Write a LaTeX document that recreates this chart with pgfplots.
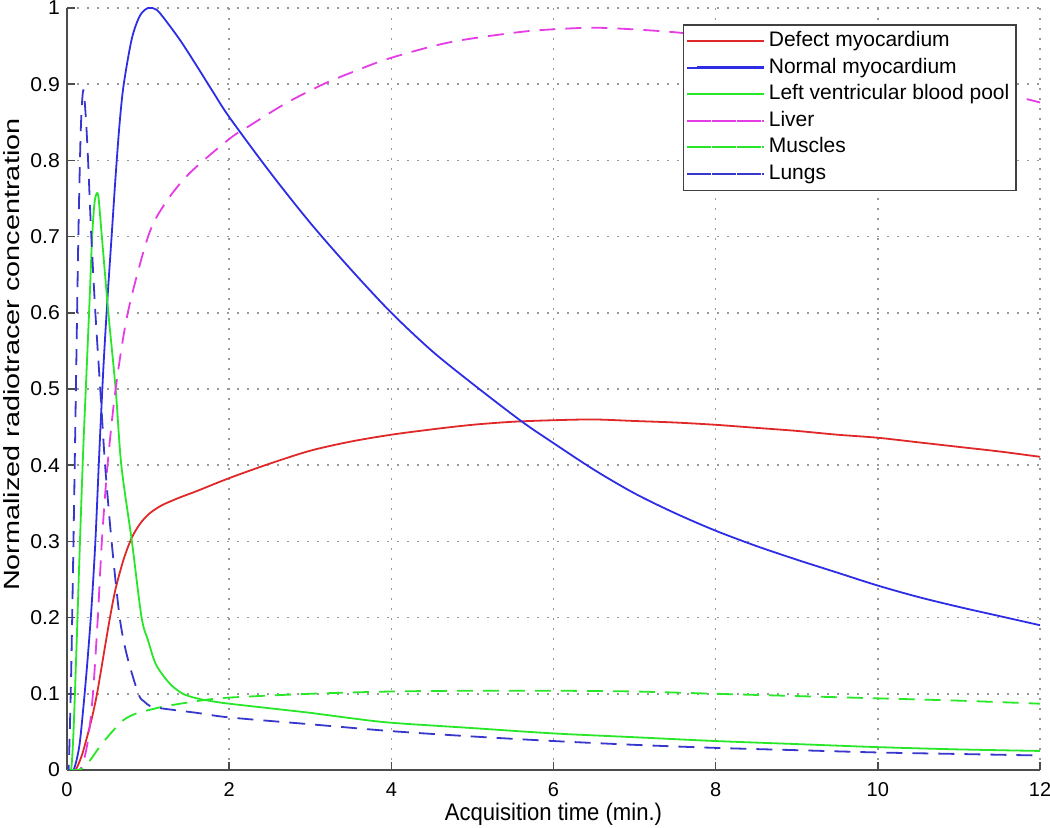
\documentclass[border=0pt]{standalone}
\usepackage{fontspec}
\setmainfont{Liberation Sans}
\newfontfamily\xfont[FakeStretch=0.92]{Liberation Sans}
\newfontfamily\yfont[FakeStretch=1.31]{Liberation Sans}
\newfontfamily\tfont[FakeStretch=1.06]{Liberation Sans}
\usepackage{pgfplots}
\pgfplotsset{compat=1.18}

\definecolor{cred}{RGB}{225,40,40}
\definecolor{cblue}{RGB}{45,45,230}
\definecolor{cgreen}{RGB}{40,230,40}
\definecolor{cmag}{RGB}{230,60,230}
\definecolor{clung}{RGB}{55,55,205}

\begin{document}
\begin{tikzpicture}
\begin{axis}[
    scale only axis,
    width=486.5pt, height=381pt,
    xmin=0, xmax=12, ymin=0, ymax=1,
    xtick={0,2,...,12},
    ytick={0,0.1,...,1},
    yticklabels={0,0.1,0.2,0.3,0.4,0.5,0.6,0.7,0.8,0.9,1},
    axis lines=left,
    axis line style={-, line width=0.9pt, black!70},
    tick style={black!70, line width=0.8pt},
    major tick length=4pt,
    tick align=inside,
    grid=major,
    grid style={black!40, line width=0.8pt, dash pattern=on 0.8pt off 4.2pt},
    /pgf/number format/assume math mode=true,
    x tick label style={font=\fontsize{10}{12}\selectfont, inner sep=1pt, yshift=-5.3pt},
    y tick label style={font=\tfont\fontsize{10}{12}\selectfont},
    xlabel={Acquisition time (min.)},
    ylabel={Normalized radiotracer concentration},
    xlabel style={font=\xfont\fontsize{12}{14}\selectfont, inner sep=0.5pt,
        at={(axis description cs:0.5,-0.058)}, anchor=center},
    ylabel style={font=\yfont\fontsize{11}{13}\selectfont,
        at={(axis description cs:-0.0565,0.545)}, anchor=center},
    legend cell align=left,
    legend style={at={(rel axis cs:0.976,0.979)}, anchor=north east,
        font=\fontsize{10.5}{12}\selectfont, draw=black!75, line width=0.8pt,
        inner sep=1.5pt, row sep=0pt,
        nodes={text height=7.6pt, text depth=2.2pt, inner sep=1.75pt}},
    legend image code/.code={
        \path (0pt,0pt) -- (38.5pt,0pt);
        \draw[#1] (5pt,0.15pt) -- (38.5pt,0.15pt);},
]
\coordinate (bl) at (rel axis cs:0,0);
\coordinate (tr) at (rel axis cs:1,1);

% Defect myocardium
\addplot[cred, line width=0.9pt, smooth, tension=0.5, forget plot] coordinates {
(0,0)(0.1,0)(0.15,0.01)(0.2,0.025)(0.3,0.065)(0.37,0.1)(0.45,0.15)(0.53,0.2)
(0.6,0.238)(0.7,0.277)(0.8,0.305)(0.9,0.323)(1.0,0.335)(1.1,0.343)(1.2,0.349)
(1.4,0.358)(1.6,0.366)(2,0.383)(2.5,0.402)(3,0.419)(3.5,0.431)(4,0.44)
(4.5,0.447)(5,0.453)(5.5,0.457)(6,0.459)(6.5,0.46)(7,0.458)(7.5,0.456)
(8,0.453)(8.5,0.449)(9,0.445)(9.5,0.44)(10,0.436)(10.5,0.43)(11,0.424)
(11.5,0.418)(12,0.411)
};

% Normal myocardium
\addplot[cblue, line width=0.9pt, smooth, tension=0.5, forget plot] coordinates {
(0,0)(0.08,0)(0.15,0.03)(0.2,0.08)(0.25,0.14)(0.3,0.21)(0.35,0.3)(0.4,0.42)
(0.45,0.53)(0.5,0.62)(0.55,0.7)(0.6,0.78)(0.65,0.85)(0.7,0.9)(0.8,0.96)
(0.9,0.99)(1.0,1.0)(1.1,0.998)(1.2,0.986)(1.4,0.957)(1.6,0.924)(1.8,0.89)
(2,0.857)(2.5,0.785)(3,0.718)(3.5,0.657)(4,0.6)(4.5,0.55)(5,0.507)
(5.6,0.458)(6,0.429)(6.5,0.394)(7,0.363)(7.5,0.337)(8,0.314)(8.5,0.294)
(9,0.276)(9.5,0.259)(10,0.242)(10.5,0.227)(11,0.214)(11.5,0.202)(12,0.19)
};

% Left ventricular blood pool
\addplot[cgreen, line width=0.9pt, smooth, tension=0.5, forget plot] coordinates {
(0,0)(0.05,0)(0.08,0.05)(0.12,0.17)(0.16,0.3)(0.2,0.42)(0.24,0.52)(0.28,0.62)
(0.31,0.7)(0.34,0.745)(0.37,0.757)(0.39,0.75)(0.43,0.7)(0.51,0.6)(0.6,0.5)
(0.67,0.4)(0.8,0.3)(0.92,0.2)(1.0,0.17)(1.09,0.14)(1.2,0.122)(1.3,0.11)
(1.43,0.1)(1.6,0.094)(1.8,0.09)(2,0.087)(2.5,0.081)(3,0.075)(3.5,0.068)
(4,0.062)(5,0.055)(6,0.048)(7,0.043)(8,0.038)(9,0.034)(10,0.03)(11,0.027)
(12,0.025)
};

% Liver
\addplot[cmag, line width=0.9pt, dash pattern=on 8pt off 5pt, smooth, tension=0.5, forget plot] coordinates {
(0,0)(0.15,0)(0.2,0.01)(0.26,0.04)(0.32,0.1)(0.38,0.2)(0.43,0.3)(0.5,0.4)
(0.6,0.5)(0.75,0.6)(1.0,0.7)(1.2,0.742)(1.5,0.782)(2.0,0.828)(2.26,0.846)
(2.7,0.875)(3.16,0.9)(3.5,0.915)(3.98,0.934)(4.72,0.955)(5.55,0.968)
(6,0.972)(6.57,0.974)(7.4,0.969)(8,0.962)(9,0.945)(10,0.925)(11,0.903)
(11.78,0.882)(12,0.876)
};

% Muscles
\addplot[cgreen, line width=0.9pt, dash pattern=on 8pt off 5pt, smooth, tension=0.5, forget plot] coordinates {
(0,0)(0.15,0)(0.2,0.003)(0.28,0.012)(0.4,0.03)(0.53,0.047)(0.69,0.065)
(0.85,0.074)(1.06,0.08)(1.23,0.084)(1.64,0.091)(2,0.095)(3,0.1)(4,0.103)
(5,0.104)(6,0.104)(7,0.103)(8,0.1)(9,0.097)(10,0.094)(11,0.091)(12,0.087)
};

% Lungs
\addplot[clung, line width=0.9pt, dash pattern=on 8pt off 5pt, smooth, tension=0.5, forget plot] coordinates {
(0,0)(0.02,0)(0.05,0.12)(0.08,0.3)(0.11,0.5)(0.14,0.7)(0.17,0.84)(0.2,0.892)
(0.23,0.86)(0.26,0.8)(0.3,0.7)(0.35,0.6)(0.41,0.5)(0.47,0.4)(0.55,0.3)
(0.65,0.2)(0.74,0.15)(0.88,0.1)(0.95,0.09)(1.05,0.083)(1.3,0.079)(1.6,0.075)
(2,0.069)(3,0.06)(4,0.051)(5,0.044)(6,0.038)(7,0.033)(8,0.029)(9,0.026)
(10,0.023)(11,0.021)(12,0.019)
};

\addlegendimage{cred, line width=1pt}
\addlegendentry{Defect myocardium}
\addlegendimage{cblue, line width=1pt}
\addlegendentry{Normal myocardium}
\addlegendimage{cgreen, line width=1pt}
\addlegendentry{Left ventricular blood pool}
\addlegendimage{cmag, line width=1pt, dash pattern=on 7pt off 5.5pt}
\addlegendentry{Liver}
\addlegendimage{cgreen, line width=1pt, dash pattern=on 7pt off 5.5pt}
\addlegendentry{Muscles}
\addlegendimage{clung, line width=1pt, dash pattern=on 7pt off 5.5pt}
\addlegendentry{Lungs}

\end{axis}
\pgfresetboundingbox
\useasboundingbox ([shift={(-33.5pt,-29pt)}]bl) rectangle ([shift={(5pt,4pt)}]tr);
\end{tikzpicture}
\end{document}
